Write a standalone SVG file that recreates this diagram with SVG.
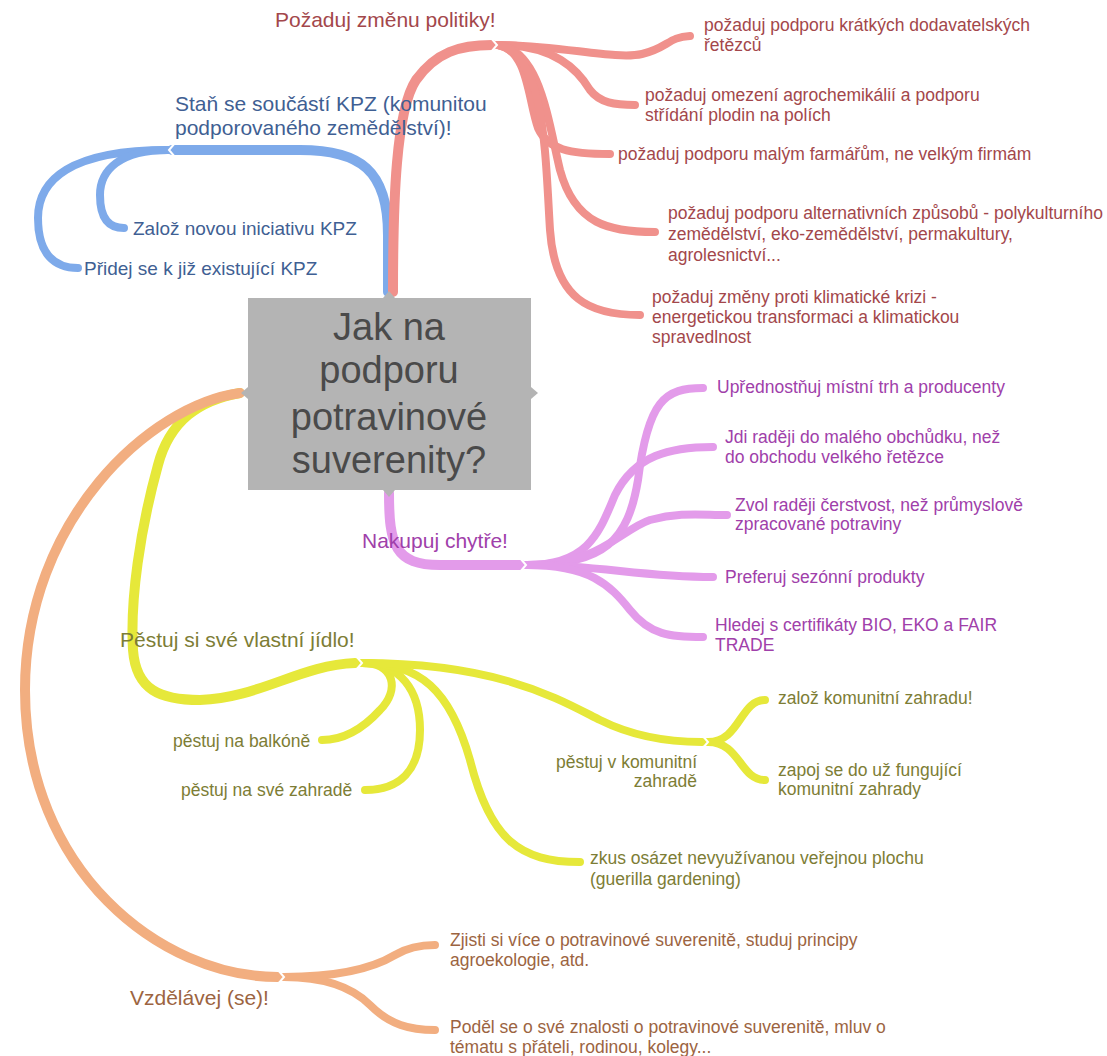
<svg xmlns="http://www.w3.org/2000/svg" width="1107" height="1056" viewBox="0 0 1107 1056">
<style>
text{font-family:"Liberation Sans",Arial,sans-serif;}
.br{fill:none;stroke-linecap:round;stroke-linejoin:round;}
.m{stroke-width:10;}
.c{stroke-width:8;}
.red{stroke:#f0918c;} .blue{stroke:#7eaaea;} .pur{stroke:#e39bea;} .yel{stroke:#e6e83a;} .ora{stroke:#f2ae80;}
.notch{fill:none;stroke:#fff;stroke-width:2;}
.t1{font-size:21px;}
.t2{font-size:17.5px;}
.t3{font-size:19px;}
.tr{fill:#a3474b;} .tb{fill:#3f5f93;} .tp{fill:#a040aa;} .ty{fill:#7d7d35;} .to{fill:#9c6441;}
.center{font-size:38px;fill:#4a4a4a;text-anchor:middle;}
</style>
<g id="connectors">
  <!-- blue -->
  <path class="br m blue" d="M388,292 L388,235 C388,170 360,150 300,150 L172,150"/>
  <path class="br c blue" d="M168,150 C70,150 38,180 38,218 C38,255 55,268 78,268"/>
  <path class="br c blue" d="M168,150 C120,150 100,170 100,195 C100,220 110,228 124,228"/>
  <!-- red -->
  <path class="br m red" d="M393,292 C393,200 396,110 416,80 C436,52 460,45 492,45"/>
  <path class="br c red" d="M498,45 C560,45 615,60 642,54 C668,48 668,37 690,36"/>
  <path class="br c red" d="M498,45 C555,45 578,70 590,90 C600,103 615,105 635,105"/>
  <path class="br c red" d="M498,45 C528,50 528,100 538,128 C548,150 570,154 610,154"/>
  <path class="br c red" d="M498,45 C540,50 548,120 560,170 C575,225 610,232 655,232"/>
  <path class="br c red" d="M498,45 C545,55 545,150 550,230 C555,300 590,315 640,315"/>
  <!-- purple -->
  <path class="br m pur" d="M389,493 C389,545 395,565 440,565 L521,565"/>
  <path class="br c pur" d="M527,565 C605,565 628,540 638,480 C648,400 665,388 703,388"/>
  <path class="br c pur" d="M527,565 C590,565 600,530 615,495 C635,455 670,447 713,447"/>
  <path class="br c pur" d="M527,565 C600,565 620,530 650,520 C680,512 700,515 727,515"/>
  <path class="br c pur" d="M527,565 C600,565 640,577 713,577"/>
  <path class="br c pur" d="M527,565 C590,565 610,585 630,610 C650,635 670,637 703,637"/>
  <!-- yellow -->
  <path class="br m yel" d="M240,393 C200,400 170,420 158,465 C140,530 130,600 133,650 C136,690 160,700 200,700 C260,698 300,665 355,663"/>
  <path class="br c yel" d="M362,663 C395,663 400,690 380,710 C360,732 340,740 322,740"/>
  <path class="br c yel" d="M362,663 C400,663 420,690 420,730 C420,770 400,790 365,790"/>
  <path class="br c yel" d="M362,663 C420,663 450,690 470,760 C490,840 520,862 580,862"/>
  <path class="br c yel" d="M362,663 C500,663 560,700 600,720 C640,740 680,742 702,742"/>
  <path class="br c yel" d="M708,742 C740,742 740,700 765,700"/>
  <path class="br c yel" d="M708,742 C740,742 740,780 765,780"/>
  <!-- orange -->
  <path class="br m ora" d="M240,393 C150,405 25,520 25,690 C25,870 160,977 278,977"/>
  <path class="br c ora" d="M284,977 C330,977 370,970 395,955 C410,946 425,945 435,945"/>
  <path class="br c ora" d="M284,977 C320,977 350,985 370,1005 C390,1025 410,1030 435,1030"/>
  <!-- notches -->
  <polyline class="notch" points="175,143 169,150 175,157"/>
  <polyline class="notch" points="491,38 497,45 491,52"/>
  <polyline class="notch" points="520,558 526,565 520,572"/>
  <polyline class="notch" points="356,656 362,663 356,670"/>
  <polyline class="notch" points="702,735 708,742 702,749"/>
  <polyline class="notch" points="278,970 284,977 278,984"/>
</g>
<g id="center">
  <rect x="248" y="298" width="283" height="192" fill="#b4b4b4"/>
  <polygon points="383,298 389,291 395,298" fill="#b4b4b4"/>
  <polygon points="248,387 241,393 248,399" fill="#b4b4b4"/>
  <polygon points="531,387 538,393 531,399" fill="#b4b4b4"/>
  <polygon points="383,490 389,497 395,490" fill="#b4b4b4"/>
  <text class="center" x="389" y="340">Jak na</text>
  <text class="center" x="389" y="383">podporu</text>
  <text class="center" x="389" y="430">potravinové</text>
  <text class="center" x="389" y="473">suverenity?</text>
</g>
<g id="n-kpz"><text class="t1 tb" x="175" y="111">Staň se součástí KPZ (komunitou</text><text class="t1 tb" x="175" y="135">podporovaného zemědělství)!</text></g>
<g id="n-kpz-new"><text class="t3 tb" x="133" y="235">Založ novou iniciativu KPZ</text></g>
<g id="n-kpz-join"><text class="t3 tb" x="84" y="275">Přidej se k již existující KPZ</text></g>
<g id="n-policy"><text class="t1 tr" x="275" y="27">Požaduj změnu politiky!</text></g>
<g id="n-p1"><text class="t2 tr" x="704" y="31">požaduj podporu krátkých dodavatelských</text><text class="t2 tr" x="704" y="51">řetězců</text></g>
<g id="n-p2"><text class="t2 tr" x="645" y="101">požaduj omezení agrochemikálií a podporu</text><text class="t2 tr" x="645" y="121">střídání plodin na polích</text></g>
<g id="n-p3"><text class="t2 tr" x="618" y="160">požaduj podporu malým farmářům, ne velkým firmám</text></g>
<g id="n-p4"><text class="t2 tr" x="668" y="219">požaduj podporu alternativních způsobů - polykulturního</text><text class="t2 tr" x="668" y="240">zemědělství, eko-zemědělství, permakultury,</text><text class="t2 tr" x="668" y="261">agrolesnictví...</text></g>
<g id="n-p5"><text class="t2 tr" x="652" y="303">požaduj změny proti klimatické krizi -</text><text class="t2 tr" x="652" y="323">energetickou transformaci a klimatickou</text><text class="t2 tr" x="652" y="343">spravedlnost</text></g>
<g id="n-shop"><text class="t1 tp" x="362" y="548">Nakupuj chytře!</text></g>
<g id="n-s1"><text class="t2 tp" x="717" y="393">Upřednostňuj místní trh a producenty</text></g>
<g id="n-s2"><text class="t2 tp" x="725" y="443">Jdi raději do malého obchůdku, než</text><text class="t2 tp" x="725" y="463">do obchodu velkého řetězce</text></g>
<g id="n-s3"><text class="t2 tp" x="735" y="511">Zvol raději čerstvost, než průmyslově</text><text class="t2 tp" x="735" y="530">zpracované potraviny</text></g>
<g id="n-s4"><text class="t2 tp" x="725" y="583">Preferuj sezónní produkty</text></g>
<g id="n-s5"><text class="t2 tp" x="715" y="631">Hledej s certifikáty BIO, EKO a FAIR</text><text class="t2 tp" x="715" y="651">TRADE</text></g>
<g id="n-grow"><text class="t1 ty" x="120" y="647">Pěstuj si své vlastní jídlo!</text></g>
<g id="n-g1"><text class="t2 ty" x="173" y="747">pěstuj na balkóně</text></g>
<g id="n-g2"><text class="t2 ty" x="181" y="796">pěstuj na své zahradě</text></g>
<g id="n-g3"><text class="t2 ty" x="697" y="768" text-anchor="end">pěstuj v komunitní</text><text class="t2 ty" x="697" y="787" text-anchor="end">zahradě</text></g>
<g id="n-g31"><text class="t2 ty" x="778" y="704">založ komunitní zahradu!</text></g>
<g id="n-g32"><text class="t2 ty" x="778" y="776">zapoj se do už fungující</text><text class="t2 ty" x="778" y="795">komunitní zahrady</text></g>
<g id="n-g4"><text class="t2 ty" x="590" y="864">zkus osázet nevyužívanou veřejnou plochu</text><text class="t2 ty" x="590" y="885">(guerilla gardening)</text></g>
<g id="n-edu"><text class="t1 to" x="130" y="1005">Vzdělávej (se)!</text></g>
<g id="n-e1"><text class="t2 to" x="450" y="946">Zjisti si více o potravinové suverenitě, studuj principy</text><text class="t2 to" x="450" y="966">agroekologie, atd.</text></g>
<g id="n-e2"><text class="t2 to" x="450" y="1033">Poděl se o své znalosti o potravinové suverenitě, mluv o</text><text class="t2 to" x="450" y="1053">tématu s přáteli, rodinou, kolegy...</text></g>
</svg>
